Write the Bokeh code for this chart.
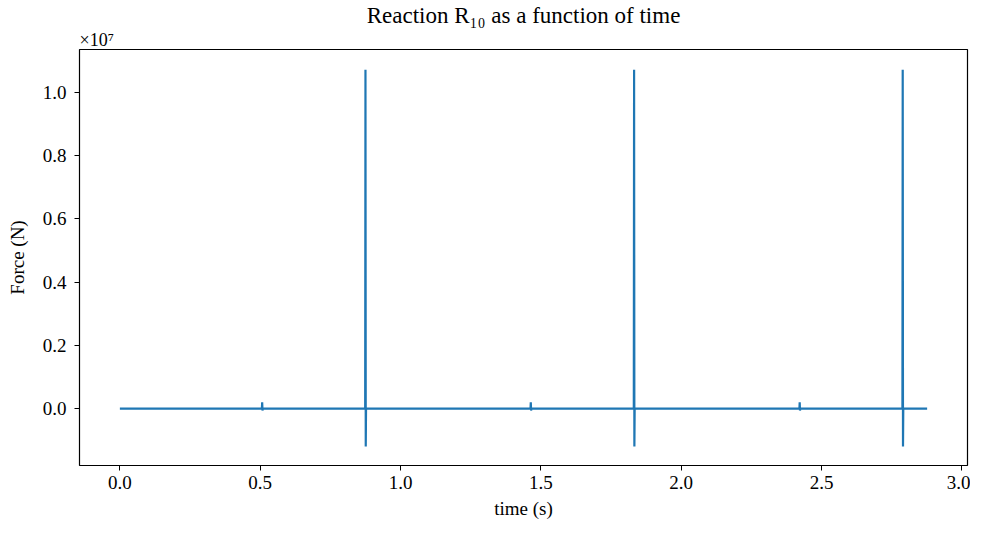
from bokeh.plotting import figure
from bokeh.models import FixedTicker, CustomJSTickFormatter, Title, Range1d
from bokeh.embed import file_html
from bokeh.resources import INLINE

# time samples (s) and reaction force (N)
time_s = [0.0, 0.506, 0.507, 0.508, 0.509,
          0.874, 0.875, 0.876, 0.877,
          1.463, 1.464, 1.465, 1.466,
          1.831, 1.832, 1.833, 1.834,
          2.421, 2.422, 2.423, 2.424,
          2.788, 2.789, 2.790, 2.791,
          2.876]
force_n = [0.0, 0.0, 2.0e5, -6.0e4, 0.0,
           0.0, 1.072e7, -1.20e6, 0.0,
           0.0, 2.0e5, -6.0e4, 0.0,
           0.0, 1.072e7, -1.20e6, 0.0,
           0.0, 2.0e5, -6.0e4, 0.0,
           0.0, 1.072e7, -1.20e6, 0.0,
           0.0]
x_ticks = [0.0, 0.5, 1.0, 1.5, 2.0, 2.5, 3.0]
y_ticks = [0.0, 2e6, 4e6, 6e6, 8e6, 1e7]

FONT = "Liberation Serif"

p = figure(width=970, height=521, output_backend="svg", toolbar_location=None,
           x_range=Range1d(-0.1438, 3.0198), y_range=Range1d(-1.80e6, 1.136e7),
           min_border_left=79, min_border_right=3, min_border_top=6, min_border_bottom=54)

p.title.text = "Reaction R\u2081\u2080 as a function of time"
p.title.align = "center"
p.title.text_font = FONT
p.title.text_font_size = "23px"
p.title.text_font_style = "normal"
p.title.text_color = "black"
p.title.standoff = 0

exp_title = Title(text="\u00d710\u2077", align="left")
exp_title.text_font = FONT
exp_title.text_font_size = "18px"
exp_title.text_font_style = "normal"
exp_title.text_color = "black"
exp_title.standoff = 0
p.add_layout(exp_title, "above")

p.line(time_s, force_n, line_color="#1f77b4", line_width=2.2)

p.xgrid.visible = False
p.ygrid.visible = False
p.outline_line_color = "black"
p.outline_line_width = 1.2
p.outline_line_alpha = 1.0
p.background_fill_color = "white"
p.border_fill_color = "white"

for ax in (p.xaxis[0], p.yaxis[0]):
    ax.axis_line_color = None
    ax.major_tick_in = 0
    ax.major_tick_out = 5
    ax.major_tick_line_color = "black"
    ax.minor_tick_line_color = None
    ax.major_label_text_font = FONT
    ax.major_label_text_font_size = "19px"
    ax.major_label_text_color = "black"
    ax.axis_label_text_font = FONT
    ax.axis_label_text_font_size = "19px"
    ax.axis_label_text_font_style = "normal"
    ax.axis_label_text_color = "black"

p.xaxis.ticker = FixedTicker(ticks=x_ticks)
p.xaxis.formatter = CustomJSTickFormatter(code="return tick.toFixed(1);")
p.xaxis.axis_label = "time (s)"
p.xaxis.major_label_standoff = 5
p.xaxis.axis_label_standoff = 6

p.yaxis.ticker = FixedTicker(ticks=y_ticks)
p.yaxis.formatter = CustomJSTickFormatter(code="return (tick/1e7).toFixed(1);")
p.yaxis.axis_label = "Force (N)"
p.yaxis.major_label_standoff = 8
p.yaxis.axis_label_standoff = 12

open("out.html", "w").write(file_html(p, INLINE))
